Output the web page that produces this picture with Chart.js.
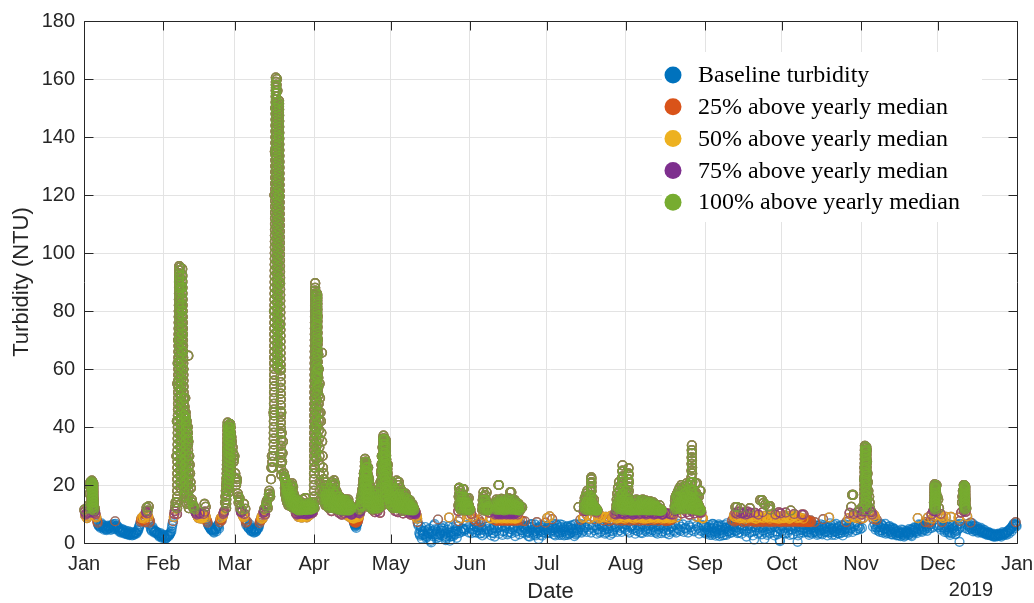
<!DOCTYPE html>
<html>
<head>
<meta charset="utf-8">
<title>Turbidity 2018</title>
<script src="https://cdn.jsdelivr.net/npm/chart.js@4/dist/chart.umd.min.js"></script>
<style>
  body { margin: 0; background: #fff; }
  #wrap { width: 1034px; height: 603px; }
</style>
</head>
<body>
<div id="wrap"><canvas id="canvas" width="1034" height="603"></canvas></div>
<script>
// Turbidity 2018 - scatter of readings, coloured by how far above the yearly median
// ---------------------------------------------------------------------------------

const monthStarts = [0, 31, 59, 90, 120, 151, 181, 212, 243, 273, 304, 334, 365]; // day of year
const monthLabels = ['Jan', 'Feb', 'Mar', 'Apr', 'May', 'Jun', 'Jul', 'Aug', 'Sep', 'Oct', 'Nov', 'Dec', 'Jan'];
const yTicks = [0, 20, 40, 60, 80, 100, 120, 140, 160, 180];

// three readings a day (04:00, 12:00, 20:00), NTU
const jan = [11.5,9.4,10.2, 8.6,10.5,13, 17,21,19, 20,16,14, 12,10,8.8, 7.6,6.5,5.8, 6,5.2,6.8,
  5.5,6.2,4.6, 5,5.8,4.4, 4.8,6,5.4, 5.2,4.5,6.2, 5.5,6.5,4.8, 7.5,5.5,6, 4.8,5.5,3.9,
  4.2,3.6,4.8, 3.8,4.5,3.2, 3.4,4.2,3, 3.2,4,2.7, 3,3.8,2.6, 3.2,2.8,3.6, 3.6,3.2,4.4,
  4.2,5.5,6.4, 7.4,8.6,7.8, 9.2,8.4,7.2, 10.6,12.2,9.6, 9,6.4,7.6, 5,4.2,5.6, 4.6,3.6,4,
  4,3.2,3.6, 2.8,2.2,3.4, 2.4,1.8,2.9];
const feb = [2,2.6,1.5, 1.6,2.2,2.8, 2.4,3,3.6, 4,6,7.5, 9,11,14, 30,55,70, 90,95,82,
  88,72,60, 50,44,42, 42,38,35, 30,24,19, 15,13,12, 12.5,11,10.2, 9.8,9.2,8.6,
  10.4,9.6,8.4, 9,8.6,10, 13.5,9.4,8.2, 7.6,6.5,5.8, 5.5,5,4.4, 4.8,4.2,3.6, 4.5,5.2,4,
  5.8,6.4,5, 7.2,8.6,7.8, 9,10,11, 14,18,22, 32,40,38, 41,38,35, 33,28,30];
const mar = [24,20,22, 17,14,15.5, 12,10.5,11.4, 9.6,8.8,10, 8,6.2,7.4, 5.6,5,6.4, 4.6,4,5.2,
  4.2,3.6,4.8, 3.8,4.4,5.2, 5,6.2,7.6, 7.8,9.2,8.4, 10.4,11.8,9.8, 13,14.5,12, 15.5,18,16,
  22,30,26, 45,120,150, 155,160,152, 140,90,60, 45,28,35, 24,22,20, 21,19,17,
  18,16,14, 20,15,13, 14,13,12, 12.5,11.5,10, 10.5,9.5,8.8, 9,10,11.5, 11,9.2,15.5,
  8.8,9.5,10.4, 10.2,12,11, 11,10.5,13];
const apr = [12,40,75, 86,70,60, 55,45,38, 35,26,22, 18,15,16.5, 16,14,12, 19,13.5,11,
  15,12.5,21.6, 20,14,11.5, 13,16,10.4, 12.5,14,9.8, 12,13.5,10.2, 11.5,14.5,9.6, 12,10.5,9,
  13,11,8.6, 10,8.5,7.6, 7,6,6.8, 7.5,9,10.2, 11,14,12.5, 18,24,21, 28,22,26,
  26,17,20, 15,13,11.5, 12.5,14,10.6, 16,13,11, 12,14,10.4, 20,30,25, 35,36,31,
  30,24,27, 20,17,14];
const may = [15,21,12, 18,14,11, 13,16,10.6, 21,15,12, 14,12,10.2, 17,13,11.6, 12.5,15,10.4,
  13,11.5,9.8, 12,10.5,9.6, 11,10,9, 9.5,7.2,6, 3.5,2.5,5.6, 1.5,4,2.8, 3,5.5,1.8,
  2.2,4.5,3.4, 5,1.2,0.2, 3.8,2.4,6, 6.5,3,1.6, 4,8.1,2, 2.8,3.5,5.2, 2.6,5.8,4.2,
  3.2,1,2.2, 4.6,2.8,8.8, 0.8,3.6,2.4, 5.4,2.4,4, 3,6.2,1.8, 4.2,7.5,19, 8.5,12,5,
  16,18.6,4.2, 14,12,8.8, 13,15.5,9.4];
const jun = [11.5,10,4.6, 9,8.2,3.8, 7.6,6.5,4.4, 5.5,8,3.2, 7.2,4.5,2.6, 9.5,12,14.8, 15,17.5,4.8,
  12,10.5,8.6, 8.5,4.8,3.4, 3.5,6,7.8, 8.8,11,5.2, 20,13.5,9, 12,10.5,4, 12.5,8.6,5.6,
  13,9.4,3.6, 12,7.8,4.8, 17.5,10.2,5.4, 12.5,8.4,3.8, 11.5,9.6,6, 12,8,4.4, 12.3,7.6,5.8,
  5.5,7.5,3.2, 6,4,2.4, 3.5,5.5,6.4, 6.5,4.5,2.8, 3.2,5,4.2, 7.2,4.8,1.4, 5.5,3.8,6.2,
  2.5,6,4.6, 4.5,7,3.4];
const jul = [8.6,5.4,3.6, 9.2,4.2,6, 8.2,5.2,3, 5,3.8,6.4, 6,4.2,2.8, 3.5,5.5,4.4, 6.2,4.8,2.6,
  4,2.8,5.6, 5.8,4.4,3.2, 3.2,6,4.8, 4.8,3.6,2.4, 6.5,5,3.4, 3.8,12.4,5.6, 8,6.5,4.6,
  8.6,9,5.2, 11,14,9.6, 16,12,8.4, 13,11.5,9, 12.5,15,8.2, 12,10.5,4.8, 9.5,8.5,3.6,
  8.8,9.2,5.4, 7.8,8.8,3.2, 9,8.2,4.8, 8.6,7.5,2.8, 9.4,8,4.2, 8.8,10,5.6, 11,12.5,8.6,
  14,18,5.2, 16,13,10, 12,15,4.6];
const aug = [18,13,9.2, 21,12.5,5.8, 12.5,11,9.8, 10.5,9.5,4.4, 12,8.8,5.2, 11.5,9.6,3.6, 14.8,11,8.4,
  12,10.2,4.8, 13.5,8.6,6, 14,10.5,3.8, 11.5,9,5.4, 10,12.8,4.2, 11,8.2,5.8, 13,10.4,3.4,
  9.8,9,5, 8.5,7.5,4.4, 9,8,3, 7.8,9.4,5.6, 8.6,9.8,4, 11,12,8.8, 15.8,12.5,4.6,
  13.5,16,10.2, 15,18,5, 17,14,10.6, 20,16,9.8, 18.5,21,11, 17,15,10.2, 20.6,14,9,
  13,16,10.4, 18,10.5,8.6, 8.5,6,4.4];
const sep = [5.5,3.8,4.8, 4.2,6.2,2.8, 3.5,5,6.6, 6.5,4,3.2, 2.5,4.8,5.8, 5.8,3.2,4.4, 4.5,6,2.6,
  3.8,2.8,5.2, 5.2,6.8,4, 4,3.4,6, 6,7.8,4.6, 5.5,9,12.4, 4.2,10,8, 3.6,8.5,12,
  5,9.2,10.2, 4.5,9.6,7.6, 2.2,10.8,8.6, 6,12,9, 3.8,9.2,7.8, 1.2,10.4,8.4, 4.4,8.2,9.8,
  5.5,14.8,8.8, 3,10.6,13.8, 1.4,13.2,8, 4.8,9,12.6, 3.4,11.5,7.8, 5.6,8.8,9.4, 2.6,9.8,8.2,
  4,8.4,10.6, 1,10.2,7.6];
const oct = [4.2,8.6,9.6, 5,10.5,7.8, 3.5,9.2,8.4, 2.8,11.2,9, 4.6,8,10, 6,9.4,7.6, 0.4,8.8,4.4,
  3.6,7.6,9.8, 4.4,9.8,6.2, 5.2,8.2,3.8, 3.6,7.4,5.6, 4.8,6.2,3.2, 5.6,3.8,7.2, 4,6,2.8,
  3.2,5.2,4.6, 6.4,4.4,3, 8.2,5,3.8, 3.8,5.8,2.6, 4.6,8.8,6.8, 6,3.6,4.8, 5.2,4.2,2.8,
  6.6,4.8,3.4, 3.4,5.6,4.4, 4.4,6.2,2.6, 5.8,3.8,4.8, 7.2,5,3.6, 8.6,10.4,5.2, 12.5,16.6,9.2,
  10,9,4.4, 8.6,10.6,5, 9.4,11.5,8.2];
const nov = [9.8,12.4,8.6, 22,30,33, 32,24,18, 16,12,9.6, 10.6,9.4,8.2, 9.6,8.8,5.4, 8,6,4.2,
  5.5,4.4,6.6, 6.2,3.6,5, 5,6.6,3.8, 4.2,3.4,5.6, 5.8,4.6,3, 3.6,5.2,4.4, 4.8,3.2,2.6,
  2.8,4.2,3.4, 3.6,2.4,4.6, 3,4.4,2.2, 2.6,3.8,3.2, 4,2.8,4.8, 3.2,4.6,2.4, 4.8,3.6,5.4,
  5.2,4,3.4, 8.6,5.6,4.6, 6.2,4.8,3.8, 5.4,6.6,4.4, 7.2,5.8,4.2, 8.8,6.4,5, 7.4,9.8,8.4,
  11,14,9.4, 19,20,16];
const dec = [15,12,9.6, 10,9.2,5.4, 8.6,6,4.4, 9,5.5,3.6, 4.2,6.4,2.8, 9,3.4,5, 6.2,4.4,3,
  3.2,5.8,4.6, 8.8,0.4,6.6, 10.5,14,18, 20,19,15, 12,9.2,6, 6.5,4.6,7, 5.5,6.8,4,
  5,6,4.4, 4.4,5.6,3.6, 4.8,3.8,5.2, 4.2,3.4,4.6, 3.6,4.4,3, 3.2,2.8,3.8, 3.4,2.6,3,
  2.6,3.2,2.2, 2.4,3,2.8, 2.8,2.4,3.2, 3,2.6,2.2, 3.2,3.8,2.8, 3,3.4,2.8, 3.6,4.2,3.2,
  4.4,5,4, 5.6,6.2,5, 6.4,7.2,5.8];
const months = [jan, feb, mar, apr, may, jun, jul, aug, sep, oct, nov, dec];
const readingHours = [4, 12, 20];

// second logger, two readings a day (08:00, 16:00), NTU
const janB = [10.8,9.8, 9.2,12, 19.5,20.5, 18,15, 11,9.2, 7,6.2, 5.6,6.4, 5.8,5.2, 5.4,4.8, 5.6,5, 5.8,4.9,
  6,5.2, 6.6,5.8, 5.2,4.4, 4,4.4, 4.2,3.6, 3.8,3.2, 3.6,3, 3.4,3.2, 3,3.4, 3.4,3.8, 4.8,5.8,
  8,8.2, 8.8,7.8, 11,10.2, 8.2,7, 4.6,5.2, 4.2,3.8, 3.8,3.4, 2.6,3, 2.2,2.6];
const febB = [2.2,1.8, 1.9,2.5, 2.8,3.2, 5,6.8, 10,12.5, 42,62, 92,88, 80,66, 47,43, 40,36, 27,21,
  14,12.6, 11.6,10.6, 9.5,8.9, 10,9, 8.8,9.5, 10.8,8.8, 7,6.2, 5.2,4.7, 4.5,3.9, 4.8,4.6,
  6,5.6, 8,8.2, 9.5,10.5, 16,20, 36,39, 40,36.5, 31,29];
const marB = [22.5,21, 16,14.8, 11,10.8, 9.2,9.4, 7,6.8, 5.3,5.8, 4.3,4.9, 3.9,4.5, 4.1,4.8, 5.6,6.9, 8.4,8.8,
  11,10.6, 13.6,12.8, 16.8,17, 26,28, 80,135, 158,156, 120,75, 38,31, 23,21, 20,18,
  17,15, 17.5,14, 13.5,12.5, 12,11, 10,9.2, 9.5,10.8, 10,12.5, 9.2,10, 11,11.6, 10.8,12];
const aprB = [26,58, 78,65, 50,42, 30,24, 16.5,15.5, 15,13, 16,12.2, 13.6,17, 17,12.8, 14.5,11.6,
  13,11, 12.8,11.2, 13,10.6, 11.2,9.6, 12,9.8, 9.2,8, 6.5,6.4, 8.2,9.6, 12.5,13, 21,22.5,
  25,24, 21.5,18.5, 14,12.2, 13.2,12, 14.5,12, 13,12.2, 25,27.5, 35.5,33.5, 27,25.5, 18.5,15.5];
const mayB = [18,16.5, 16,12.5, 14.5,13.3, 18,13.5, 13,11.1, 15,12.3, 13.8,12.7, 12.2,10.6, 11.2,10, 10.5,9.5,
  8.4,6.6, 3,4.5, 2.8,3.4, 4.2,2.4, 3.3,3.9, 3.1,0.7, 3.1,4.2, 4.7,2.3, 3,5, 3.2,4.3,
  4.2,5, 2.1,1.6, 3.7,5.6, 2.2,3, 3.9,3.2, 4.6,4, 5.8,3.4, 4.2,3.8, 5,4.6, 4.8,6.2, 5.4,3.6];
const junB = [5,3.4, 4.6,5.8, 3.6,5.4, 4.4,6.2, 3.4,5.2, 4.6,3.2, 5.6,3.8, 4.2,6, 2.6,4.4, 5.2,2.2,
  4,6.4, 3.2,5.4, 5.8,2.8, 4.2,6.2, 5,3, 6.4,3.8, 3.4,4.6, 5.8,2.4, 4.2,5.2, 3,6.6,
  4.4,3.6, 5.2,4.6, 3.8,5.8, 2.2,4.4, 5.6,3.8, 6.4,2.6, 3.4,5.2, 4.4,2.8, 5.2,3.6, 5.8,4.2];
const julB = [4.8,6.2, 3.4,5, 4.4,6.6, 2.6,4.8, 5.2,3.6, 6.4,2.8, 3.8,5.4, 4.6,3.4, 2.8,5.2, 5.4,3.8,
  6.2,4.2, 3,4.4, 4.6,6.4, 5.4,3.6, 4.2,6, 5.4,3.8, 4.6,6.2, 3.6,5.2, 6,4.4, 5.6,3.2,
  4.6,6.4, 4,6.2, 5.6,4.6, 3.6,5.8, 5,4, 6,3.4, 4.8,6.6, 5.4,3.8, 6.2,4.4, 3.8,5.6, 5.2,6.4];
const augB = [6.4,4.2, 3.6,5.4, 6,4.8, 5.2,3.2, 6.2,4, 4.6,5.8, 3.4,6.4, 5.6,4.2, 3.8,5, 6,4.6,
  4.4,6.6, 5.8,3.6, 3.2,4.8, 6.2,5.4, 4,6, 5.6,3.4, 6.4,4.6, 3.8,5.2, 5.8,4.4, 6.2,3.6,
  5,6.6, 4.2,5.6, 6.4,3.8, 5.2,4.6, 3.6,6, 5.4,4.4, 6.6,4, 4.6,5.8, 5.2,3.2, 4.2,6.2, 5.6,3.6];
const sepB = [3.2,5.6, 5.4,3.6, 4.4,2.8, 5.2,6, 3.6,4.2, 6.4,2.4, 3.4,5.4, 4.6,6.2, 2.8,4.8, 5.6,4.4,
  3.6,5.8, 6.6,4.2, 5.4,3.4, 4.8,6.2, 3.2,5.6, 6,4, 4.4,5.8, 3.6,5, 5.8,2.6, 4.2,5.4,
  6.2,3.2, 3.8,5, 5.4,4.2, 6,3.6, 2.8,5.8, 5,4.4, 3.6,6.2, 5.6,4, 3,5.2, 4.6,6];
const octB = [5.6,3.4, 3.2,5.4, 6,4.4, 4.8,5.6, 3,6.2, 5.2,4, 2.6,5.8, 5.4,4.6, 3.6,5, 6.2,4.2,
  4.8,2.8, 3.6,5.4, 4.4,6, 5.2,3.6, 6,4.2, 3.4,5.6, 4.6,6.2, 5.2,4, 3.6,5.4, 4.8,2.8,
  6.2,3.8, 4,5.2, 5.8,3.2, 3.6,5, 4.6,6.4, 5.4,4.2, 6.2,4.6, 5,3.8, 5.8,6.4, 4.4,6, 5.6,4.8];
const novB = [5.2,10.8, 26,31.5, 28,21, 14,10.8, 9.8,5.6, 6.4,4.6, 5.2,6.6, 3.8,5.4, 4.4,5.8, 4.8,3.2,
  5,4.6, 4,5.2, 3,4.8, 4,3.8, 3.6,2.6, 3.2,3.8, 3.6,2.8, 3.4,4.2, 3.6,3.2, 3.8,2.8,
  4.2,4.4, 4.6,3.8, 5,6.4, 5.6,4.2, 5.8,4.8, 6.4,5.2, 5.8,7, 6.4,5.2, 5.6,12.5, 17.5,6];
const decB = [5.4,6.2, 4.6,7.2, 5.2,3.8, 4.8,6.2, 5.4,3.6, 4.6,5.8, 5.2,3.8, 4.2,6.4, 5,7.6, 5.6,16,
  17.5,5.2, 6.4,4.8, 5.6,5.2, 4.8,6, 5.6,4.2, 5,4.6, 4.2,4.8, 3.8,4, 3.8,3.4, 3.4,3.6,
  2.8,3.2, 2.8,2.4, 2.6,2.2, 2.6,3, 2.6,2.8, 3,3.4, 3.2,3.6, 3.8,4.4, 4.6,5.2, 5.8,6.6, 6.8,6.2];
const monthsB = [janB, febB, marB, aprB, mayB, junB, julB, augB, sepB, octB, novB, decB];
const readingHoursB = [8, 16];

// storm events, logged at a faster rate
const janStorm = [10.5,11.5,12.5,13.5,14.5,15.5,16.5,17.5,18.5,19.5,20.5,21.5, 21,20,19,18,17,16,15,14,13,12,11,
  11.75,12.75,13.75,14.75,15.75,16.75,17.75,18.75,19.75,20.75, 20.2,19.2,18.2,17.2,16.2,15.2,14.2,13.2,12.2,11.2,10.4];
const febRise = [10,12,14,16,18,20,22,24,26,28,30,32,34,36,38,40,42,44,46,48,50,52,54,56,58,60,62,64,66,68,70,72,74,76,78,80,82,84,86,88,90,92,94,95.5];
const febPeak = [93,91,89,87,85,83,81,79,77,75,73,71,69,67,65,63,61,59,57,55,53,51,49,47,45,43,41,39,37,35,33,31,29,27,25,23,21,19,
  20.5,22.5,24.5,26.5,28.5,30.5,32.5,34.5,36.5,38.5,40.5,42.5,44.5,46.5,48.5,50.5,52.5,54.5,56.5,58.5,60.5,62.5,64.5,66.5,68.5,70.5,72.5,74.5,76.5,78.5,80.5,82.5,84.5,86.5,88.5,90.5,92.5,94.5];
const febFall = [92,90,88,86,84,82,80,78,76,74,72,70,68,66,64,62,60,58,56,54,52,50,48,46,44];
const febLobe = [44,42,40,38,36,34,32,30,28,26,24,22,20,18,16, 17,19,21,23,25,27,29,31,33,35,37,39,41,43,45,
  43.5,41.5,39.5,37.5,35.5,33.5,31.5,29.5,27.5,25.5,23.5,21.5,19.5,17.5,15.5,13.5];
const febTail = [40,38,36,34,32,30,28,26,24,22,20,18,16,14,12];
const marchFirst = [12,13.5,15,16.5,18,19.5,21,22.5,24,25.5,27,28.5,30,31.5,33,34.5,36,37.5,39,40.5,41.5,
  40,38.5,37,35.5,34,32.5,31,29.5,28,26.5,25,23.5,22,20.5,19,17.5,
  18.75,20.25,21.75,23.25,24.75,26.25,27.75,29.25,30.75,32.25,33.75,35.25,36.75,38.25,39.75,41,
  39.5,38,36.5,35,33.5,32,30.5,29,27.5,26,24.5,23];
const marchStorm = [30,32,34,36,38,40,42,44,46,48,50,52,54,56,58,60,62,64,66,68,70,72,74,76,78,80,82,84,86,88,90,92,94,96,98,
  100,102,104,106,108,110,112,114,116,118,120,122,124,126,128,130,132,134,136,138,140,142,144,146,148,150,152,154,156,158,160.5,
  159,157,155,153,151,149,147,145,143,141,139,137,135,133,131,129,127,125,123,121,119,117,115,113,111,
  109,107,105,103,101,99,97,95,93,91,89,87,85,83,81,79,77,75,73,71,69,67,65,63,61,
  60.5,62.5,64.5,66.5,68.5,70.5,72.5,74.5,76.5,78.5,80.5,82.5,84.5,86.5,88.5,90.5,92.5,94.5,96.5,98.5,100.5,102.5,104.5,106.5,
  108.5,110.5,112.5,114.5,116.5,118.5,120.5,122.5,124.5,126.5,128.5,130.5,132.5,134.5,136.5,138.5,140.5,142.5,144.5,146.5,148.5,150.5,152.5,
  151.5,149.5,147.5,145.5,143.5,141.5,139.5,137.5,135.5,133.5,131.5,129.5,127.5,125.5,123.5,121.5,119.5,117.5,115.5,113.5,111.5,109.5,
  107.5,105.5,103.5,101.5,99.5,97.5,95.5,93.5,91.5,89.5,87.5,85.5,83.5,81.5,79.5,77.5,75.5,73.5,71.5,69.5,67.5,65.5,63.5,61.5,
  59.5,57.5,55.5,53.5,51.5,49.5,47.5,45.5,43.5,41.5,39.5,37.5,35.5,33.5,31.5,29.5,27.5,25.5,23.5];
const marchTail = [22,19,17,21,18,16,20,15,17,19,14,18,16,20,15,13,17,19,14,16,
  18,15,13,17,20,14,16,12.5,18,15,13,19,14,16,12,17,15,13,14,16,
  13,15,12,14,10.2,13.5,15,12,9.8,11.5,13,12.5,14.5,11.2,9,12,14,11.5,12.5,13.5,
  12,10.4,13,11.2,12.5,14,9.6,12,13,11.3,8.8,15,11.8,12.2,10,11.4,12,12.8,9.4,13.2,
  12.4,11.3,13.6,10.2,12.2,11.5,13,9.8,11.4,12.8,11.6,13.4,10.4,12.6,12,11.5,13.8,9.6,11.6,12.4,
  11.8,12.6,13.4,11.5,10.2,14,12.8,11.6,13,12.4];
const aprilStorm = [12,14,16,18,20,22,24,26,28,30,32,34,36,38,40,42,44,46,48,50,52,54,56,58,60,62,64,66,68,70,72,74,76,78,80,82,84,86,88,89.6,
  87,85,83,81,79,77,75,73,71,69,67,65,63,61,59,57,55,53,51,49,47,45,43,41,39,37,35,33,31,29,
  29.5,31.5,33.5,35.5,37.5,39.5,41.5,43.5,45.5,47.5,49.5,51.5,53.5,55.5,57.5,59.5,61.5,63.5,65.5,67.5,69.5,71.5,73.5,75.5,77.5,79.5,81.5,83.5,85.5,
  84.5,82.5,80.5,78.5,76.5,74.5,72.5,70.5,68.5,66.5,64.5,62.5,60.5,58.5,56.5,54.5,52.5];
const aprilTail = [60,57,54,51,48,45,42,39,36,33,30,27,24,21,18,15];
const aprilBump = [13,14.5,16,17.5,19,20.5,22,23.5,25,26.5,28,29, 27.5,26,24.5,23,21.5,20,18.5,17,15.5,14,
  15.75,17.25,18.75,20.25,21.75,23.25,24.75,26.25, 24.5,23,21.5,20,18.5,17,15.5,14,12.5];
const aprilLateBump = [13,14.5,16,17.5,19,20.5,22,23.5,25,26.5,28,29.5,31,32.5,34,35.5,37,
  35.75,34.25,32.75,31.25,29.75,28.25,26.75,25.25,23.75,22.25,20.75,19.25,17.75,16.25,14.75,
  16,17.5,19,20.5,22,23.5,25,26.5,28,29.5,31,32.5,34,35.5,
  34.75,33.25,31.75,30.25,28.75,27.25,25.75,24.25,22.75,21.25,19.75,18.25,16.75,15.25,13.75];
const aprMayRun = [20,17,15,19,16,14,21,18,15,13,17,20,16,14,18,15,13,19,16,14,12.5,17,15,13,
  16,14,19,13,15,17,12.5,20,16,14,21,15,13,18,16,12,19,14,16,13,
  20.5,15,13,17,14,12,16,18,13,15,12.5,17,14,16,12,15,13.5,11.5,14,16,
  13,15,12,14,11.5,13.5,15.5,12,14,11.2,13,15,12.5,14.5,11.5,13,14,12,15,12.5,
  14.5,12,13,11.5,15,12.5,14,11.2,13.5,12,14.5,11.8,13,12.2,15,11.5,12.8,13.6,11.2,12.4,
  12,13,11.4,12.6,10.2,11.8,9.8,10.6,9.2,11,9.6,8.6,10.4,9,7.8,8.4,7.2,6.8,7.6,6.4,
  6,6.8,5.6,7.2,6.4,5.2,7,8.2,6.6,7.8,8.8,9.6,8,10.4,9.2,11,10.6,12,11.4,13,
  12.2,14,13,15.5,12.6,16,14.5,17,13.5,18.5,15,20,16.5,22,18,24,17,21,19,25,
  27,22,25,19,28,23,20,26,18,24,21,17,23,19,16,22,18,15,20,14,
  17,13,15,12,16,14,12.5,18,13,15,11.8,14,16,12.5,13.5,17,12,14.5,13,15.5,
  16,13,14.5,12,17,13.5,15,11.8,14,16.5,12.5,15,13,18,14,12.2,16,13,19,15,
  21,17,24,19,27,22,30,25,33,28,36,30,26,34,29,24,31,27,22,28,
  25,21,29,23,19,26,21,17,24,19,16,22,18,15,20,16,14,19,15,13,
  16,13,21,15,12.5,18,14,20,16,13,17,12,15,19,14,12.5,16,13.5,18,14.5,
  13,16,12,21.5,15,13,18,14,12,16.5,20,14,12.5,17,13,15.5,12,19,14,13,
  16,12.5,14,18,13,11.8,15,17,12.4,14,13,16,11.6,14.5,12.8,15.5,12,13.6,17,12.2,
  14,12,13,15.5,11.6,12.8,14.2,11.4,13.2,12,15,11.2,12.6,13.8,11.8,12.4,14.6,11.4,12.2,13,
  12,11.4,12.8,11,12.2,13.4,10.8,11.6,12.4,10.6,11.2,12,10.4,11.4,10.8,10.2,11,9.8,10.4,9.6];
const juneFirst = [11,13,16,19,17,14,12,15,18,13,11.5,16,14,12,17,15,12.5,14,18.6,13,11.2,15,12,14,16,13,11.5,
  12.5,15,13.5,12,14,11.2,12.6,15.5,13,11.6,12.2,14,12.8,11.4,11.8,13,11.2,12,11.5];
const juneSecond = [11.5,13,14.8,12,16,17.5,13.5,12,15,11.2,14,12.5,16.5,13,11.8,14.2,12.4,11.4,13.6,12,11.2,12.8,11.6,12.2,11.3];
const juneRun = [11.5,12.8,14,12.2,13.5,11.8,15,12.6,13,11.4, 14.2,12,13.6,12.4,11.6,14.8,13,12.2,11.4,13.8,
  12.6,14.4,11.8,13.2,12,15.2,12.8,11.6,14,13.4, 12.2,11.4,13.6,14.6,12,12.8,11.2,13,14.2,12.4,
  11.8,13.6,12.2,15,12.6,11.4,13.2,14,12,12.8, 11.6,14.4,13,12.2,15.4,12.6,11.8,13.4,14.6,12,
  13.2,11.4,12.8,14,12.4,11.8,13.6,15,12.2,13, 11.6,12.8,14.2,12,13.4,11.4,12.6,14.8,13,12.2,
  11.8,13.2,12.4,11.4,14,12.8,11.6,12.2,13.6,11.4, 12,12.8,11.2,13.4,12.2,11.6,12.4,11.2];
const juneLow = [9.8,8.6,10.2,7.8,9.2,10.6,8.4,9.6,7.6,10, 8.8,9.4,10.4,8,9.8,7.8,10.2,8.6,9,10.6,
  8.2,9.6,10,7.6,9.2,10.4,8.4,9.8,8,10.2, 9,7.8,10.6,8.8,9.4,10,8.2,9.6,7.6,10.4,
  8.6,9.2,10.2,8,9.8,7.8,10.6,8.4,9,10, 8.8,9.6,7.6,10.4,8.2,9.4,10.2,8,9.8,8.6,
  10,7.8,9.2,10.6,8.4,9.6,8,10.2,8.8,9, 10.4,7.6,9.8,8.2,10,9.4,8.6,10.6,7.8,9.2,
  8.4,10.2,9.6,8,9,10.4,8.8,7.6,9.8,8.6];
const julyRun = [11,12.6,14,11.8,15.5,13,12.2,16,11.4,13.6, 17,12.4,14.4,11.6,18,13.2,12,15,11.2,14,
  12.8,16.4,11.8,13.4,12.2,15.6,11.4,12.8,14.2,11.6, 13,12,14.8,11.2,12.6,13.6,11.8,12.4,11.4,13.2,
  12,11.6,12.8,11.2,12.2,11.4,12,11.2,11.8,11.4, 11.2,11.6,11.2,11.4,11.2];
const julyStack = [12,14,16,17.7,19,20.6,22,22.6,21,19.5,18,16,14,12];
const augRun = [11.5,13,15,12.2,17,14,12.6,19,13.4,16, 11.8,21,14.6,12.4,18,13,15.6,11.6,20,13.8,
  12.2,16.6,14,11.4,22,13,12.6,17.4,15,11.8, 19,13.6,12,15.8,11.2,14.4,18,12.8,13.2,16,
  11.6,14.8,12.4,13.6,11.4,15.2,12.2,13,11.8,14.2, 12.6,11.4,13.4,12,11.2,12.8,11.6,13,11.2,12.4,
  11.4,12.6,11.2,13,12,11.6,14,12.2,11.4,12.8, 13.6,11.2,12.4,14.8,11.8,12.6,13.2,11.4,12,15,
  12.4,11.6,13.8,12.2,11.2,14.2,12.8,11.6,13,12, 11.4,14.6,12.2,11.8,13.4,12.6,11.2,12,14,11.6,
  12.8,13.2,11.4,12.4,15,11.8,12.2,13.6,11.4,12.6, 14.2,11.6,12,13,11.2,12.8,14.6,11.8,12.4,13.2,
  11.4,12.2,13.8,11.6,12.6,11.2,14,12,11.8,13.4, 12.4,11.2,12.8,14.4,11.6,12,13.2,11.4,12.6,11.8,
  13.6,12.2,11.4,12.8,11.6,14,12.4,11.2,13,12, 11.4,12.6,13.4,11.8,12.2,11.2,12.8,11.6,12.4,11.4,
  12,11.2,11.8,12.4,11.4,11.2,11.6,11.2,11.4,11.2, 11.2,11.4,11.2,11.6,11.2,11.4,11.2,11.2,11.4,11.2];
const augStackA = [13,15,17,19,21,22.6,24.7,26.8,25,23,21,19,17,15,13];
const augStackB = [14,17,19.5,22,24,25.8,23.5,21,18,15];
const augLow = [9.8,8.4,10.2,7.8,9.4,10.6,8.8,9,10,8.2, 9.6,7.6,10.4,8.6,9.2,10.2,8,9.8,8.4,10.6,
  9,7.8,10,8.8,9.4,8.2,10.4,9.6,7.6,9, 10.2,8.6,9.8,8,10.6,9.2,8.4,10,7.8,9.6,
  8.8,10.4,9,8.2,9.8,10.2,7.6,9.4,8.6,10, 9.2,8,10.6,8.8,9.6,7.8,10.2,9,8.4,9.8,
  10.4,8.2,9.4,7.6,10,8.6,9.2,10.6,8,9.6, 8.8,10.2,9,7.8,9.8,8.4,10.4,9.4,8.2,9,
  10,8.6,9.6,7.6,10.2,8.8,9.2,8,10.6,9.4, 8.4,9.8,10,7.8,9,8.6,10.4,9.6,8.2,9.2,
  10.2,8.8,7.6,9.4,8.4,10,9,8.6,9.8,8];
const sepRun = [11.4,12.8,14.6,12,15.8,13.2,11.6,16.4,12.4,14, 17,13,11.8,15.2,12.6,18,14,12.2,16,13.4,
  19,12.8,15,11.6,17.6,14.2,12.4,20,15.4,13, 18.4,12.6,16.8,14,11.8,19.4,13.6,15.8,12.2,17.2,
  14.6,12,16,13.2,18.6,11.8,15,13.8,20.6,12.6, 16.4,14,12.2,17.8,13.4,15.2,11.6,19,14.4,12.8,
  16.2,13,15.6,12.2,18,14.2,11.8,17,13.6,15, 12.4,16.6,11.6,14.8,13.2,18.2,12,15.4,13.8,11.4,
  16,12.6,14.2,11.8,17.4,13,12.2,15.8,11.6,14, 12.4,13.6,11.2,12.8,11.6,13,11.4,12,11.2,11.6,
  11.2,11.4,11.2,11.6,11.2];
const sepStack = [14,16,18,20,21,22.6,25,27.3,29.5,32,33.7,31,28.5,26,24,21,18,15,12];
const autumnLow = [8.2,9.6,7.4,10.4,8.8,7.8,9.2,10.8,8,9.4, 7.6,10.2,8.6,9,7.2,10.6,8.4,9.8,7.8,8.8,
  10,7.4,9.2,8.2,10.4,7.6,9.6,8,8.6,7.2,
  9.2,7.8,8.4,7.2,9.4,8,7.6,8.8,7.4,9, 8.2,7.2,8.6,7.8,9.4,7.4,8,8.8,7.6,9.2,
  7.2,8.4,7.8,9,7.4,8.2,7.6,8.8,7.2,8.6, 9.4,7.8,8,7.4,9,8.4,7.2,8.2,7.6,8.8,
  7.4,8.6,7.8,9.2,7.2,8.2,7.6,9,7.4,8.4, 7.8,8.8,7.2,8,7.6,9.4,7.4,8.2,7.8,8.6,
  7.2,8,7.6,8.8,7.4,8.2,7.2,7.8,8.4,7.6, 7.2,8,7.4,7.8,7.2,7.6,7.4,7.2,7.8,7.4];
const novStorm = [11,12.5,14,15.5,17,18.5,20,21.5,23,24.5,26,27.5,29,30.5,32,33.5,
  32.75,31.25,29.75,28.25,26.75,25.25,23.75,22.25,20.75,19.25,17.75,16.25,14.75,13.25,
  13.6,15.1,16.6,18.1,19.6,21.1,22.6,24.1,25.6,27.1,28.6,30.1,31.6,33.1,
  32.2,30.7,29.2,27.7,26.2,24.7,23.2,21.7,20.2,18.7,17.2,15.7,14.2,12.7,11.2];
const decStorm = [11,12,13,14,15,16,17,18,19,20.2, 19.5,18.5,17.5,16.5,15.5,14.5,13.5,12.5,11.5,
  12.25,13.25,14.25,15.25,16.25,17.25,18.25,19.25,20, 18.75,17.75,16.75,15.75,14.75,13.75,12.75,11.75,10.75];
const decLateStorm = [11,12,13,14,15,16,17,18,19,19.9, 19.5,18.5,17.5,16.5,15.5,14.5,13.5,12.5,11.5,
  12.25,13.25,14.25,15.25,16.25,17.25,18.25,19.25,19.6, 18.75,17.75,16.75,15.75,14.75,13.75,12.75,11.75,10.75];

// [first reading (day of year), spacing (days), readings]
const bursts = [
  [2.8, 0.025, janStorm],
  [36.4, 0.02, febRise], [37.3, 0.015, febPeak], [38.45, 0.025, febFall], [38.9, 0.03, febLobe], [40.6, 0.03, febTail],
  [55.6, 0.03, marchFirst],
  [74.2, 0.013, marchStorm], [78.5, 0.1, marchTail],
  [89.9, 0.014, aprilStorm], [91.6, 0.05, aprilTail], [93.6, 0.1, aprMayRun],
  [109.5, 0.04, aprilBump], [116.7, 0.03, aprilLateBump],
  [146.4, 0.1, juneFirst], [155.8, 0.1, juneSecond], [160.8, 0.1, juneRun], [160.85, 0.1, juneLow],
  [195.5, 0.1, julyRun], [198.3, 0.025, julyStack],
  [208.2, 0.1, augRun], [208.1, 0.2, augLow], [210.4, 0.04, augStackA], [212.8, 0.04, augStackB],
  [231.0, 0.1, sepRun], [237.5, 0.03, sepStack], [254.0, 0.28, autumnLow],
  [305.2, 0.02, novStorm], [332.6, 0.02, decStorm], [344.2, 0.02, decLateStorm]
];

// odd single readings: [day of year, NTU]
const spotReadings = [[24.9, 11.2], [25.3, 12.6], [47.6, 12.5], [39.6, 50], [40.8, 64.6], [62.6, 13.5],
  [63.1, 11.8], [78.6, 22.7], [79.4, 18], [81.4, 20.6], [81.8, 19.3], [86.5, 15.5], [93.1, 65.6],
  [98.2, 20.5], [162.3, 20], [166.7, 17.5], [171.4, 12.3], [232, 15.8], [239.8, 20.6], [241, 18],
  [255.5, 12.4], [265.3, 14.8], [268.4, 12.7], [272.3, 0.6], [300.9, 16.6]];

const yearlyMedian = 5.5;                 // NTU
const levels = [1.25, 1.5, 1.75, 2.0];    // multiples of the median
const seriesNames = ['Baseline turbidity', '25% above yearly median', '50% above yearly median',
  '75% above yearly median', '100% above yearly median'];
const seriesColors = ['#0072BD', '#D95319', '#EDB120', '#7E2F8E', '#77AC30'];

// all readings as {x: day, y: NTU}
const readings = [];
months.forEach((vals, m) => {
  vals.forEach((v, i) => {
    readings.push({ x: monthStarts[m] + Math.floor(i / 3) + readingHours[i % 3] / 24, y: v });
  });
});
monthsB.forEach((vals, m) => {
  vals.forEach((v, i) => {
    readings.push({ x: monthStarts[m] + Math.floor(i / 2) + readingHoursB[i % 2] / 24, y: v });
  });
});
bursts.forEach(([start, step, vals]) => {
  vals.forEach((v, i) => readings.push({ x: start + i * step, y: v }));
});
spotReadings.forEach(([d, v]) => readings.push({ x: d, y: v }));

function rgba(hex, a) {
  const n = parseInt(hex.slice(1), 16);
  return 'rgba(' + (n >> 16) + ',' + ((n >> 8) & 255) + ',' + (n & 255) + ',' + a + ')';
}

const datasets = seriesNames.map((name, k) => ({
  label: name,
  data: k === 0 ? readings : readings.filter(p => p.y > yearlyMedian * levels[k - 1]),
  borderColor: rgba(seriesColors[k], 0.7),
  backgroundColor: 'rgba(0,0,0,0)',
  pointRadius: 4.4,
  pointHoverRadius: 4.4,
  pointBorderWidth: 1.4,
  order: seriesNames.length - k,
  clip: false
}));

const axisFont = '"Liberation Sans", Arial, Helvetica, sans-serif';
const ink = '#262626';

// box, inward ticks, legend and the year under the last month
const frame = {
  id: 'frame',
  afterDatasetsDraw(chart) {
    const { ctx, chartArea: a, scales } = chart;
    const L = a.left + 0.5, R = a.right + 0.5, T = a.top + 0.5, B = a.bottom + 0.5;
    ctx.save();
    ctx.strokeStyle = ink;
    ctx.lineWidth = 1;
    ctx.beginPath();
    ctx.rect(L, T, R - L, B - T);
    monthStarts.forEach(v => {
      const px = Math.round(scales.x.getPixelForValue(v)) + 0.5;
      ctx.moveTo(px, B); ctx.lineTo(px, B - 9);
      ctx.moveTo(px, T); ctx.lineTo(px, T + 9);
    });
    yTicks.forEach(v => {
      const py = Math.round(scales.y.getPixelForValue(v)) + 0.5;
      ctx.moveTo(L, py); ctx.lineTo(L + 9, py);
      ctx.moveTo(R, py); ctx.lineTo(R - 9, py);
    });
    ctx.stroke();

    // legend
    ctx.fillStyle = '#fff';
    ctx.fillRect(662, 52, 320, 170);
    ctx.font = '24px "Liberation Serif", "Times New Roman", serif';
    ctx.textBaseline = 'middle';
    ctx.textAlign = 'left';
    chart.data.datasets.forEach((ds, k) => {
      const cy = 75 + k * 31.8;
      ctx.beginPath();
      ctx.arc(673, cy, 8.5, 0, Math.PI * 2);
      ctx.fillStyle = seriesColors[k];
      ctx.fill();
      ctx.fillStyle = '#000';
      ctx.fillText(ds.label, 698, cy + 1);
    });

    ctx.font = '20px ' + axisFont;
    ctx.fillStyle = ink;
    ctx.textAlign = 'center';
    ctx.fillText('2019', 971, 590);
    ctx.restore();
  }
};

new Chart(document.getElementById('canvas').getContext('2d'), {
  type: 'scatter',
  data: { datasets: datasets },
  plugins: [frame],
  options: {
    responsive: false,
    animation: false,
    events: [],
    layout: { padding: { top: 19, right: 17, bottom: 0, left: 0 } },
    plugins: { legend: { display: false }, tooltip: { enabled: false } },
    scales: {
      x: {
        type: 'linear', min: 0, max: 365,
        afterBuildTicks: s => { s.ticks = monthStarts.map(v => ({ value: v })); },
        afterFit: s => { s.height = 60; s.paddingLeft = 0; s.paddingRight = 0; },
        ticks: {
          autoSkip: false, maxRotation: 0, minRotation: 0, padding: 9, color: ink,
          font: { family: axisFont, size: 20 },
          callback: v => monthLabels[monthStarts.indexOf(v)]
        },
        grid: { color: '#e3e3e3', drawTicks: false },
        border: { display: false },
        title: { display: true, text: 'Date', color: ink, font: { family: axisFont, size: 22, lineHeight: 1 }, padding: { top: 0, bottom: 0 } }
      },
      y: {
        min: 0, max: 180,
        afterBuildTicks: s => { s.ticks = yTicks.map(v => ({ value: v })); },
        afterFit: s => { s.width = 84; },
        ticks: { padding: 9, color: ink, font: { family: axisFont, size: 20 } },
        grid: { color: '#e3e3e3', drawTicks: false },
        border: { display: false },
        title: { display: true, text: 'Turbidity (NTU)', color: ink, font: { family: axisFont, size: 22, lineHeight: 1 }, padding: { top: 11, bottom: 0 } }
      }
    }
  }
});
</script>
</body>
</html>
